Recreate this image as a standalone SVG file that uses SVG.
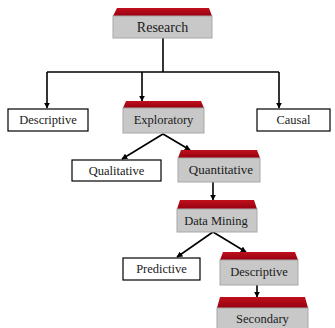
<svg xmlns="http://www.w3.org/2000/svg" width="335" height="328" viewBox="0 0 335 328">
<defs>
<marker id="ah" viewBox="0 0 10 10" refX="9" refY="5" markerWidth="6" markerHeight="6" orient="auto" markerUnits="userSpaceOnUse">
<path d="M0,0 L10,5 L0,10 z" fill="#000"/>
</marker>
<linearGradient id="rg" x1="0" y1="0" x2="0" y2="1">
<stop offset="0" stop-color="#c0101c"/>
<stop offset="1" stop-color="#960010"/>
</linearGradient>
</defs>
<style>
.top{fill:url(#rg);}
.body{fill:#c8c8c8;stroke:#a8a8a8;stroke-width:1;}
.wbox{fill:#fff;stroke:#000;stroke-width:1.2;}
text{font-family:"Liberation Serif","Times New Roman",serif;font-size:12.5px;fill:#1a1a1a;text-anchor:middle;}
.c{fill:none;stroke:#000;stroke-width:1.6;}
</style>
<rect width="335" height="328" fill="#fff"/>
<g id="connectors">
<path class="c" d="M163,38 V72"/>
<path class="c" d="M47,72 H279"/>
<path class="c" d="M47,72 V108" marker-end="url(#ah)"/>
<path class="c" d="M142,72 V101" marker-end="url(#ah)"/>
<path class="c" d="M279,72 V108" marker-end="url(#ah)"/>
<path class="c" d="M163,134 L122,159" marker-end="url(#ah)"/>
<path class="c" d="M163,134 L190,150" marker-end="url(#ah)"/>
<path class="c" d="M213,182 V200" marker-end="url(#ah)"/>
<path class="c" d="M213,232 L177,257" marker-end="url(#ah)"/>
<path class="c" d="M213,232 L246,252" marker-end="url(#ah)"/>
<path class="c" d="M257,285 V297" marker-end="url(#ah)"/>
</g>
<g id="research">
<polygon class="top" points="117,8 209,8 212,16 113,16"/>
<rect class="body" x="113" y="16" width="99" height="22"/>
<text x="162.5" y="32" style="font-size:14px">Research</text>
</g>
<g id="descriptive1">
<rect class="wbox" x="8" y="109" width="80" height="22"/>
<text x="48" y="124">Descriptive</text>
</g>
<g id="exploratory">
<polygon class="top" points="126,101 201,101 204,108 123,108"/>
<rect class="body" x="123" y="108" width="81" height="25"/>
<text x="163.5" y="124">Exploratory</text>
</g>
<g id="causal">
<rect class="wbox" x="257" y="109" width="73" height="22"/>
<text x="293.5" y="124">Causal</text>
</g>
<g id="qualitative">
<rect class="wbox" x="72" y="160" width="89" height="21"/>
<text x="116.5" y="175">Qualitative</text>
</g>
<g id="quantitative">
<polygon class="top" points="181,150 257,150 260,158 178,158"/>
<rect class="body" x="178" y="158" width="82" height="24"/>
<text x="221" y="174" style="font-size:13px">Quantitative</text>
</g>
<g id="datamining">
<polygon class="top" points="180,200 254,200 257,209 177,209"/>
<rect class="body" x="177" y="209" width="80" height="23"/>
<text x="216" y="225">Data Mining</text>
</g>
<g id="predictive">
<rect class="wbox" x="123" y="258" width="77" height="22"/>
<text x="161.5" y="273">Predictive</text>
</g>
<g id="descriptive2">
<polygon class="top" points="223,252 295,252 298,260 220,260"/>
<rect class="body" x="220" y="260" width="78" height="25"/>
<text x="259" y="276">Descriptive</text>
</g>
<g id="secondary">
<polygon class="top" points="220,297 305,297 308,308 217,308"/>
<rect class="body" x="217" y="308" width="91" height="22"/>
<text x="262.5" y="323">Secondary</text>
</g>
</svg>
